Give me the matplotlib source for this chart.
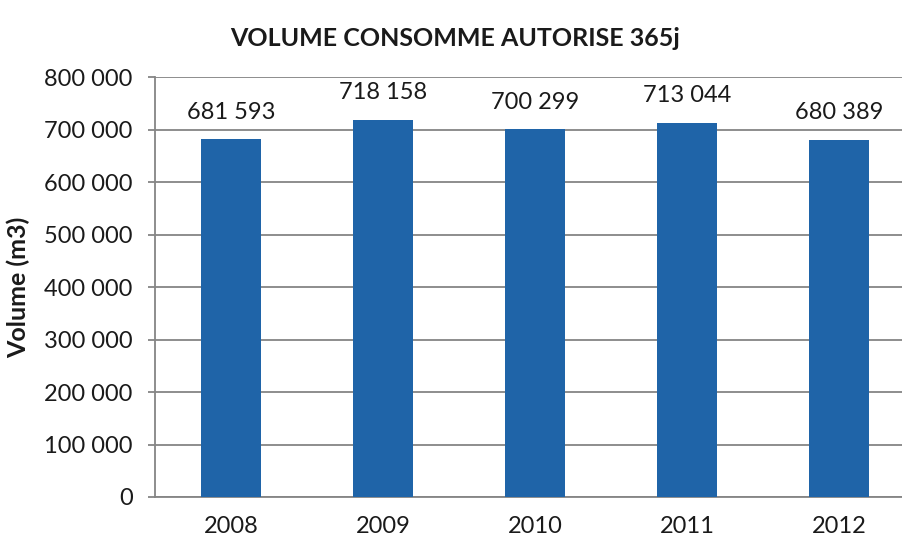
import matplotlib.pyplot as plt
from matplotlib.ticker import FuncFormatter

plt.rcParams['font.family'] = ['Lato', 'DejaVu Sans']

years = ['2008', '2009', '2010', '2011', '2012']
volumes = [681593, 718158, 700299, 713044, 680389]
y_ticks = [0, 100000, 200000, 300000, 400000, 500000, 600000, 700000, 800000]


def fmt_space(v, pos=None):
    # thousands separated by a space, French style
    return f"{int(v):,}".replace(",", " ")


fig = plt.figure(figsize=(9.02, 5.44), dpi=100)
ax = fig.add_axes([0.1718, 0.0864, 0.8426, 0.772])

x = range(len(years))
ax.bar(x, volumes, width=0.4, color='#1f64a8', zorder=3)
ax.set_xlim(-0.5, len(years) - 0.5)
ax.set_ylim(0, 800000)
ax.set_yticks(y_ticks)
ax.yaxis.set_major_formatter(FuncFormatter(fmt_space))
ax.set_xticks(list(x))
ax.set_xticklabels(years)

for xi, v in zip(x, volumes):
    ax.annotate(fmt_space(v), (xi, v), xytext=(0, 12), textcoords='offset points',
                ha='center', va='bottom', fontsize=17, color='#1a1a1a')

ax.grid(axis='y', color='#858585', linewidth=1.3, zorder=0)
for s in ['top', 'right']:
    ax.spines[s].set_visible(False)
ax.spines['left'].set_color('#858585')
ax.spines['bottom'].set_color('#858585')
ax.spines['left'].set_linewidth(1.3)
ax.spines['bottom'].set_linewidth(1.3)
ax.tick_params(axis='y', length=5, width=1.3, color='#858585', pad=11,
               labelsize=17, labelcolor='#1a1a1a')
ax.tick_params(axis='x', length=0, pad=14, labelsize=17, labelcolor='#1a1a1a')

ax.set_ylabel('Volume (m3)', fontsize=18, fontweight='bold', color='#1a1a1a', labelpad=10)
fig.text(0.505, 0.93, 'VOLUME CONSOMME AUTORISE 365j', ha='center', va='center',
         fontsize=18, fontweight='bold', color='#1a1a1a')

fig.savefig('out.png', dpi=100)
